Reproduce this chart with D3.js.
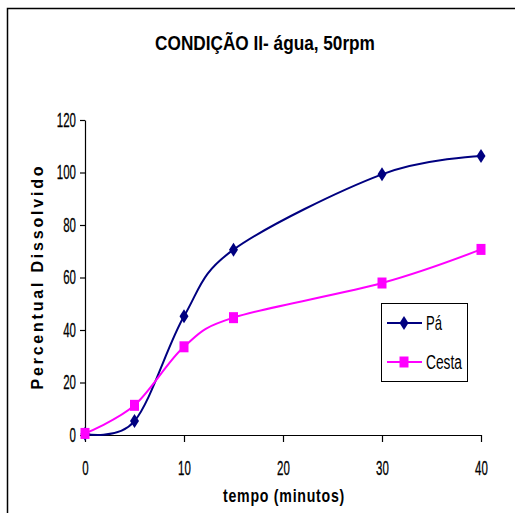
<!DOCTYPE html>
<html>
<head>
<meta charset="utf-8">
<script src="https://cdn.jsdelivr.net/npm/d3@7"></script>
<style>
  body { margin: 0; background: #fff; }
  svg { display: block; font-family: "Liberation Sans", Arial, sans-serif; }
</style>
</head>
<body>
<div id="chart"></div>
<script>
// data
var tempo = [0, 5, 10, 15, 30, 40];
var pa = [0.5, 5.3, 45.2, 70.6, 99.3, 106.3];
var cesta = [0.6, 11.3, 33.6, 44.7, 57.9, 70.7];
var xTicks = [0, 10, 20, 30, 40];
var yTicks = [0, 20, 40, 60, 80, 100, 120];
var seriesNames = ["Pá", "Cesta"];
var seriesColors = ["#000080", "#FF00FF"];

var W = 515, H = 513;
var margin = {top: 120, right: 34, bottom: 78, left: 85},
    width = W - margin.left - margin.right,
    height = H - margin.top - margin.bottom;

var svg = d3.select("#chart").append("svg")
    .attr("width", W)
    .attr("height", H);

// squeeze a text horizontally so that it is w pixels wide (the original is narrow)
function squeeze(t, w) {
  var x0 = +t.attr("x") || 0, y0 = +t.attr("y") || 0;
  var natural = t.node().getComputedTextLength();
  var sx = w / natural;
  t.attr("x", 0).attr("y", 0)
   .attr("transform", "translate(" + x0 + "," + y0 + ") scale(" + sx + ",1)");
}

var narrowFont = "'Liberation Sans Narrow', 'Arial Narrow', 'Liberation Sans', Arial, sans-serif";

// outer frame (right and bottom edges fall outside the picture)
svg.append("rect")
    .attr("x", 7.5).attr("y", 8.5)
    .attr("width", 520).attr("height", 520)
    .attr("fill", "none")
    .attr("stroke", "#000")
    .attr("stroke-width", 1.5);

svg.append("text")
    .attr("x", 265).attr("y", 50)
    .attr("text-anchor", "middle")
    .attr("font-weight", "bold")
    .style("font-size", "21px")
    .text("CONDIÇÃO II- água, 50rpm")
    .call(squeeze, 220);

var g = svg.append("g")
    .attr("transform", "translate(" + margin.left + "," + margin.top + ")");

var x = d3.scaleLinear().domain([0, 40]).range([0, width]);
var y = d3.scaleLinear().domain([0, 120]).range([height, 0]);

function styleAxis(sel) {
  sel.attr("font-size", null).attr("font-family", null);
  sel.selectAll("text")
    .style("font-size", "20px")
    .style("font-family", narrowFont)
    .attr("fill", "#000")
    .attr("stroke", "#000")
    .attr("stroke-width", 0.3)
    .each(function() {
      var t = d3.select(this);
      var dy = t.attr("dy");
      squeeze(t, this.textContent.length * 6.4);
      t.attr("dy", dy);
    });
  sel.selectAll("line, path").attr("stroke", "#000").attr("stroke-width", 1.2);
}

g.append("g")
    .attr("transform", "translate(0," + height + ")")
    .call(d3.axisBottom(x).tickValues(xTicks).tickSize(7).tickSizeOuter(0).tickPadding(19))
    .call(styleAxis);

g.append("g")
    .call(d3.axisLeft(y).tickValues(yTicks).tickSize(5).tickSizeOuter(0).tickPadding(4))
    .call(styleAxis);

// axis titles
svg.append("text")
    .attr("x", 284).attr("y", 502)
    .attr("text-anchor", "middle")
    .attr("font-weight", "bold")
    .style("font-size", "19px")
    .style("letter-spacing", "1px")
    .text("tempo (minutos)")
    .call(squeeze, 122);

svg.append("text")
    .attr("transform", "translate(43,278) rotate(-90)")
    .attr("text-anchor", "middle")
    .attr("font-weight", "bold")
    .style("font-size", "16px")
    .attr("textLength", 223)
    .attr("lengthAdjust", "spacing")
    .text("Percentual Dissolvido");

var line = d3.line()
    .x(function(d) { return x(d[0]); })
    .y(function(d) { return y(d[1]); })
    .curve(d3.curveCatmullRom.alpha(0));

var diamond = "M0,-7L4.5,0L0,7L-4.5,0Z";
var square = "M-4.5,-5.5H4.5V5.5H-4.5Z";
var markers = [diamond, square];

[pa, cesta].forEach(function(vals, i) {
  var pts = tempo.map(function(t, j) { return [t, vals[j]]; });
  g.append("path")
      .datum(pts)
      .attr("fill", "none")
      .attr("stroke", seriesColors[i])
      .attr("stroke-width", 2)
      .attr("d", line);
  g.selectAll(".m" + i)
      .data(pts)
      .enter().append("path")
      .attr("class", "m" + i)
      .attr("transform", function(d) { return "translate(" + x(d[0]) + "," + y(d[1]) + ")"; })
      .attr("d", markers[i])
      .attr("fill", seriesColors[i]);
});

// legend
var legend = svg.append("g").attr("transform", "translate(381,303)");
legend.append("rect")
    .attr("x", 0.5).attr("y", 0.5)
    .attr("width", 86).attr("height", 78)
    .attr("fill", "#fff")
    .attr("stroke", "#000");

var item = legend.selectAll(".item")
    .data(seriesNames)
    .enter().append("g")
    .attr("class", "item")
    .attr("transform", function(d, i) { return "translate(0," + (20 + i * 39) + ")"; });

item.append("line")
    .attr("x1", 6).attr("x2", 41)
    .attr("stroke", function(d, i) { return seriesColors[i]; })
    .attr("stroke-width", 2);
item.append("path")
    .attr("transform", "translate(23,0)")
    .attr("d", function(d, i) { return markers[i]; })
    .attr("fill", function(d, i) { return seriesColors[i]; });
item.append("text")
    .attr("x", 45).attr("y", 7)
    .style("font-size", "20px")
    .style("font-family", narrowFont)
    .text(function(d) { return d; })
    .each(function(d) { squeeze(d3.select(this), d.length === 2 ? 16 : 36); });
</script>
</body>
</html>
